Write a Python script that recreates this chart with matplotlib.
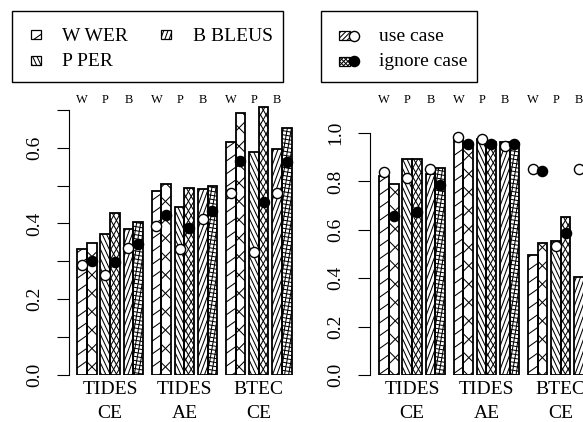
import numpy as np
import matplotlib
matplotlib.use("Agg")
import matplotlib.pyplot as plt
from matplotlib.patches import Rectangle
from matplotlib.collections import LineCollection
from matplotlib.transforms import blended_transform_factory

plt.rcParams['font.family'] = ['Liberation Serif', 'DejaVu Serif']

# ---------------- data ----------------
groups = ["TIDES\nCE", "TIDES\nAE", "BTEC\nCE"]
metrics = ["W", "P", "B"]
legend_metrics = ["W WER", "P PER", "B BLEUS"]
case_labels = ["use case", "ignore case"]

# left panel  (rows: groups, cols: W, P, B)
left_bar_use = [[0.332, 0.372, 0.386], [0.485, 0.443, 0.490], [0.616, 0.588, 0.595]]
left_bar_ign = [[0.348, 0.427, 0.404], [0.504, 0.493, 0.499], [0.690, 0.706, 0.653]]
left_dot_use = [[0.290, 0.265, 0.334], [0.393, 0.332, 0.411], [0.479, 0.324, 0.479]]
left_dot_ign = [[0.302, 0.297, 0.346], [0.422, 0.389, 0.434], [0.565, 0.456, 0.561]]

# right panel
right_bar_use = [[0.824, 0.891, 0.829], [0.981, 0.975, 0.961], [0.496, 0.555, 0.406]]
right_bar_ign = [[0.788, 0.891, 0.854], [0.960, 0.964, 0.960], [0.547, 0.652, 0.460]]
right_dot_use = [[0.838, 0.814, 0.852], [0.985, 0.975, 0.946], [0.852, 0.534, 0.850]]
right_dot_ign = [[0.657, 0.673, 0.785], [0.953, 0.953, 0.953], [0.844, 0.588, 0.840]]

left_ticks = [0.0, 0.1, 0.2, 0.3, 0.4, 0.5, 0.6, 0.7]
left_ticklabels = ["0.0", "", "0.2", "", "0.4", "", "0.6", ""]
right_ticks = [0.0, 0.2, 0.4, 0.6, 0.8, 1.0]
right_ticklabels = ["0.0", "0.2", "0.4", "0.6", "0.8", "1.0"]

# ---------------- styles ----------------
W_PX, H_PX, DPI = 583, 422, 100
PX_PER_UNIT = 9.653
GROUP_STEP, PAIR_STEP = 7.7, 2.4
hatch_use = [[(35, 10.5)], [(115, 4.0)], [(70, 4.0)]]
hatch_ign = [[(45, 13), (135, 13)], [(60, 4.8), (120, 4.8)], [(80, 4.0), (-10, 4.0)]]
HATCH_LW = 0.75

fig = plt.figure(figsize=(W_PX / DPI, H_PX / DPI), dpi=DPI)


def add_hatch(ax, patch, specs, lw=HATCH_LW):
    x0, y0 = patch.get_x(), patch.get_y()
    w, h = patch.get_width(), patch.get_height()
    tr = patch.get_data_transform()
    corners = tr.transform([[x0, y0], [x0 + w, y0], [x0, y0 + h], [x0 + w, y0 + h]])
    segs = []
    for ang, sp in specs:
        th = np.deg2rad(ang)
        d = np.array([np.cos(th), np.sin(th)])
        n = np.array([-np.sin(th), np.cos(th)])
        pr = corners @ n
        tp = corners @ d
        for k in np.arange(np.floor(pr.min() / sp), np.ceil(pr.max() / sp) + 1):
            c = k * sp
            segs.append([c * n + (tp.min() - 3) * d, c * n + (tp.max() + 3) * d])
    inv = tr.inverted()
    segs = [inv.transform(np.array(s)) for s in segs]
    lc = LineCollection(segs, transform=tr, colors='black', linewidths=lw,
                        zorder=patch.get_zorder() + 0.1)
    ax.add_collection(lc, autolim=False)
    lc.set_clip_path(patch)


def panel(spine_x, first_bar_x, px_per_val, ymax, bar_use, bar_ign, dot_use, dot_ign,
          ticks, ticklabels, spine_top):
    xl = -(first_bar_x - spine_x) / PX_PER_UNIT
    xr = 23.0
    ax = fig.add_axes([spine_x / W_PX, (H_PX - 375) / H_PX,
                       (xr - xl) * PX_PER_UNIT / W_PX, ymax * px_per_val / H_PX])
    ax.set_xlim(xl, xr)
    ax.set_ylim(0, ymax)
    for s in ['top', 'right', 'bottom']:
        ax.spines[s].set_visible(False)
    ax.spines['left'].set_bounds(0, spine_top)
    ax.spines['left'].set_linewidth(0.8)
    ax.patch.set_visible(False)
    ax.set_xticks([])
    ax.set_yticks(ticks)
    ax.set_yticklabels(ticklabels, rotation=90, va='center', fontsize=14)
    ax.tick_params(axis='y', direction='out', length=8.5, width=0.8, pad=10)

    trans_top = blended_transform_factory(ax.transData, fig.transFigure)
    for g in range(len(groups)):
        for m in range(len(metrics)):
            xu = g * GROUP_STEP + m * PAIR_STEP
            xi = xu + 1
            for xx, hh, specs in [(xu, bar_use[g][m], hatch_use[m]),
                                  (xi, bar_ign[g][m], hatch_ign[m])]:
                b = ax.bar(xx, hh, width=1, align='edge', color='white',
                           edgecolor='none', zorder=2)[0]
                add_hatch(ax, b, specs)
                ax.bar(xx, hh, width=1, align='edge', fill=False,
                       edgecolor='black', linewidth=1.3, zorder=3)
            ax.plot(xu + 0.5, dot_use[g][m], 'o', ms=7.3, mfc='white', mec='black',
                    mew=1.0, zorder=4, clip_on=False)
            ax.plot(xi + 0.5, dot_ign[g][m], 'o', ms=7.3, mfc='black', mec='black',
                    mew=1.0, zorder=4, clip_on=False)
            ax.text(xu + 0.5, (H_PX - 100) / H_PX, metrics[m], transform=trans_top,
                    ha='center', va='center', fontsize=9)
        gc = g * GROUP_STEP + PAIR_STEP + 1.0
        top, bottom = groups[g].split("\n")
        ax.text(gc, (H_PX - 394) / H_PX, top, transform=trans_top, ha='center',
                va='baseline', fontsize=14)
        ax.text(gc, (H_PX - 417.5) / H_PX, bottom, transform=trans_top, ha='center',
                va='baseline', fontsize=14)
    return ax


panel(69.0, 77.3, 379.0, 0.72, left_bar_use, left_bar_ign, left_dot_use, left_dot_ign,
      left_ticks, left_ticklabels, 0.7)
panel(370.0, 379.3, 242.0, 1.03, right_bar_use, right_bar_ign, right_dot_use, right_dot_ign,
      right_ticks, right_ticklabels, 1.0)

# ---------------- legends (pixel overlay) ----------------
lax = fig.add_axes([0, 0, 1, 1], zorder=10)
lax.set_xlim(0, W_PX)
lax.set_ylim(H_PX, 0)
lax.axis('off')

lax.add_patch(Rectangle((11.7, 10.7), 271, 71, fill=False, edgecolor='black', lw=1.0))
lax.add_patch(Rectangle((320.7, 10.7), 156.6, 71, fill=False, edgecolor='black', lw=1.0))

leg_entries = [(legend_metrics[0], 30.5, 29.5, 62.3, 41.3, hatch_use[0]),
               (legend_metrics[2], 161.0, 29.5, 192.7, 41.3, hatch_use[2]),
               (legend_metrics[1], 30.5, 55.5, 62.3, 65.7, hatch_use[1])]
for lab, sx, sy, tx, ty, specs in leg_entries:
    r = Rectangle((sx, sy), 10, 9.5, facecolor='white', edgecolor='none', zorder=2)
    lax.add_patch(r)
    add_hatch(lax, r, specs)
    lax.add_patch(Rectangle((sx, sy), 10, 9.5, fill=False, edgecolor='black', lw=0.9, zorder=3))
    lax.text(tx, ty, lab, fontsize=14, va='baseline', ha='left')

case_entries = [(case_labels[0], 31.0, 41.3, [(45, 3.5)], 'white'),
                (case_labels[1], 56.5, 65.7, [(45, 3.0), (135, 3.0)], 'black')]
for lab, sy, ty, specs, fc in case_entries:
    r = Rectangle((339.0, sy), 11, 9, facecolor='white', edgecolor='none', zorder=2)
    lax.add_patch(r)
    add_hatch(lax, r, specs)
    lax.add_patch(Rectangle((339.0, sy), 11, 9, fill=False, edgecolor='black', lw=0.9, zorder=3))
    lax.plot(353.5, sy + 4.5, 'o', ms=7.3, mfc=fc, mec='black', mew=1.0, zorder=4)
    lax.text(379.0, ty, lab, fontsize=14, va='baseline', ha='left')

fig.savefig("out.png", dpi=DPI)
